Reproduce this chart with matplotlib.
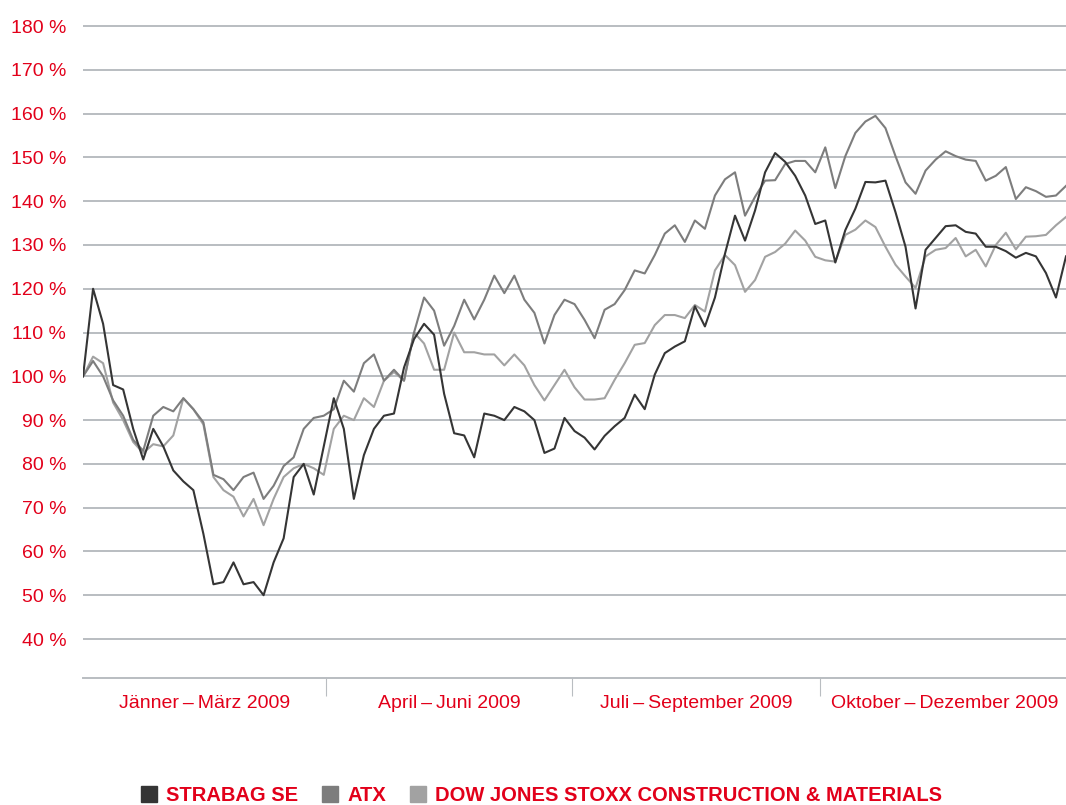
import numpy as np
import pandas as pd
import matplotlib
matplotlib.use("Agg")
from matplotlib import pyplot as plt
from matplotlib.lines import Line2D

# Kursentwicklung 2009, indexiert (1.1.2009 = 100 %)
strabag = [100, 120, 112, 98, 97, 88, 81, 88, 84, 78.5, 76, 74, 64, 52.5, 53, 57.5, 52.5, 53, 50, 57.5, 63, 77, 80, 73, 84,
           95, 88, 72, 82, 88, 91, 91.5, 102, 108.5, 112, 109.5, 96, 87, 86.5, 81.5, 91.5, 91, 90, 93, 92, 90, 82.5, 83.5, 90.5, 87.5,
           86, 83.3, 86.4, 88.6, 90.5, 95.8, 92.5, 100.4, 105.3, 106.8, 108, 116, 111.4, 118, 128, 136.7, 131, 137.9, 146.6, 151,
           149, 145.8, 141.3, 134.8, 135.6,
           126, 133.4, 138.3, 144.4, 144.3, 144.7, 137.5, 129.6, 115.5, 128.9, 131.6, 134.3, 134.5, 133, 132.6, 129.6, 129.6,
           128.6, 127.1, 128.2, 127.4, 123.6, 118, 127.4]
atx = [100, 103.5, 100, 94.5, 91, 85.5, 83, 91, 93, 92, 95, 92.5, 89.5, 77.5, 76.5, 74, 77, 78, 72, 75, 79.5, 81.5, 88, 90.5, 91,
       92.5, 99, 96.5, 103, 105, 99, 101.5, 99, 110, 118, 115, 107, 111.5, 117.5, 113, 117.5, 123, 119, 123, 117.5, 114.5, 107.5,
       114, 117.5, 116.5,
       112.9, 108.7, 115.2, 116.5, 119.7, 124.2, 123.5, 127.7, 132.6, 134.5, 130.7, 135.6, 133.7, 141.3, 145, 146.6, 136.7, 141,
       144.7, 144.8, 148.5, 149.2, 149.2, 146.6, 152.3,
       143, 150.3, 155.6, 158.2, 159.5, 156.7, 150.3, 144.3, 141.7, 147, 149.5, 151.4, 150.3, 149.5, 149.2, 144.7, 145.8, 147.8,
       140.5, 143.2, 142.3, 141, 141.3, 143.5]
djstoxx = [100, 104.5, 103, 94, 90, 85, 82.5, 84.5, 84, 86.5, 95, 92.5, 89, 77, 74, 72.5, 68, 72, 66, 72, 77, 79, 80, 79, 77.5,
           88, 91, 90, 95, 93, 99, 101, 99, 110, 107.5, 101.5, 101.5, 110, 105.5, 105.5, 105, 105, 102.5, 105, 102.5, 98, 94.5,
           98, 101.5, 97.5,
           94.7, 94.7, 95, 99.2, 103, 107.2, 107.6, 111.7, 114, 114, 113.3, 116.3, 114.8, 124.2, 127.7, 125.4, 119.3, 122, 127.3,
           128.4, 130.3, 133.3, 131, 127.3, 126.5,
           126.2, 132.3, 133.5, 135.6, 134.1, 129.6, 125.5, 122.8, 120.2, 127.4, 128.9, 129.3, 131.6, 127.4, 128.9, 125.1, 130,
           132.8, 129, 131.9, 132, 132.3, 134.5, 136.4]

series_names = ["STRABAG SE", "ATX", "DOW JONES STOXX CONSTRUCTION & MATERIALS"]
quarter_labels = ["Jänner\u2009–\u2009März 2009", "April\u2009–\u2009Juni 2009",
                  "Juli\u2009–\u2009September 2009", "Oktober\u2009–\u2009Dezember 2009"]
y_ticks = list(range(40, 190, 10))

RED = "#e2001a"
GRID = "#b9bdc1"
colors = ["#353535", "#7d7d7d", "#a2a2a2"]

dates = pd.date_range("2009-01-01", "2009-12-31", periods=len(strabag))
q_start = pd.to_datetime(["2009-01-01", "2009-04-01", "2009-07-01", "2009-10-01", "2010-01-01"])
q_mid = q_start[:-1] + (q_start[1:] - q_start[:-1]) / 2

plt.rcParams["font.family"] = ["Liberation Sans", "DejaVu Sans"]

fig = plt.figure(figsize=(10.66, 8.05), dpi=100)
ax = fig.add_axes([0.0779, 0.1578, 0.9221, 0.8174])

ax.plot(dates, djstoxx, color=colors[2], lw=1.5, zorder=3)
ax.plot(dates, atx, color=colors[1], lw=1.5, zorder=4)
ax.plot(dates, strabag, color=colors[0], lw=1.5, zorder=5)

ax.set_xlim(dates[0], dates[-1])
ax.set_ylim(31.1, 181.4)

ax.set_yticks(y_ticks)
ax.set_yticklabels([f"{v} %" for v in y_ticks], color=RED, fontsize=14)
ax.tick_params(axis="y", length=0, pad=12)
ax.grid(axis="y", color=GRID, lw=1.4, zorder=1)

ax.set_xticks(q_start[1:-1])
ax.set_xticklabels([])
ax.tick_params(axis="x", which="major", direction="out", length=13, width=0.8, color=GRID)
ax.set_xticks(q_mid, minor=True)
ax.set_xticklabels(quarter_labels, minor=True, color=RED, fontsize=14)
ax.tick_params(axis="x", which="minor", length=0, pad=12)

for s in ["top", "right", "left"]:
    ax.spines[s].set_visible(False)
ax.spines["bottom"].set_color(GRID)
ax.spines["bottom"].set_linewidth(1.4)

handles = [Line2D([], [], marker="s", ls="none", markersize=11.5, color=c) for c in colors]
leg = fig.legend(handles, series_names, loc="center", bbox_to_anchor=(0.507, 0.012), ncol=3,
                 frameon=False, handletextpad=0.35, columnspacing=1.1, handlelength=1.0,
                 prop={"family": ["Liberation Sans", "DejaVu Sans"], "weight": "bold", "size": 14.5})
for t in leg.get_texts():
    t.set_color(RED)

fig.savefig("out.png", dpi=100)
